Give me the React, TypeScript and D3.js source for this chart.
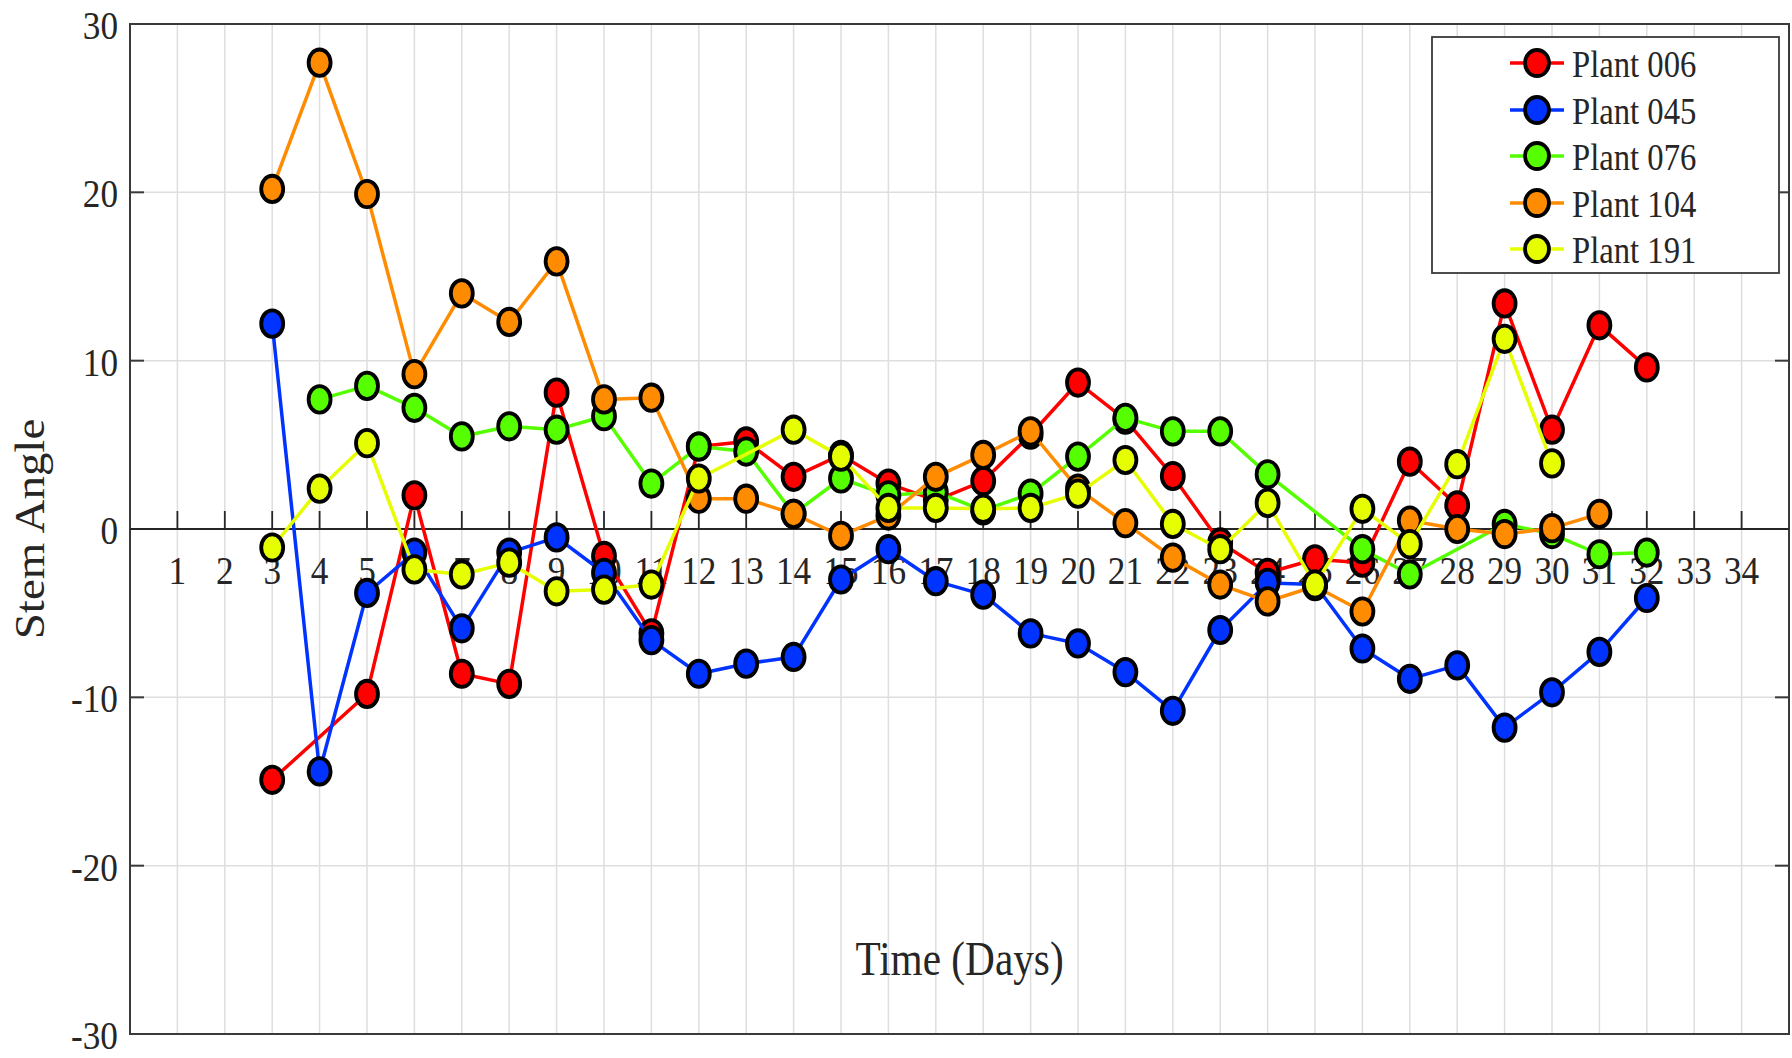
import React from "react";
import * as d3 from "d3";

// days on which each plant was measured
const days = [3, 4, 5, 6, 7, 8, 9, 10, 11, 12, 13, 14, 15, 16, 17, 18, 19, 20, 21, 22, 23, 24, 25, 26, 27, 28, 29, 30, 31, 32];

// stem angle per day (null = no measurement that day)
const plant006 = [-14.9, null, -9.8, 2.0, -8.6, -9.2, 8.1, -1.6, -6.2, 4.9, 5.2, 3.1, 4.4, 2.7, 1.7, 2.85, 5.6, 8.7, 6.5, 3.15, -0.8, -2.6, -1.8, -2.0, 4.0, 1.4, 13.4, 5.9, 12.1, 9.6];
const plant045 = [12.2, -14.4, -3.8, -1.4, -5.9, -1.4, -0.5, -2.6, -6.6, -8.6, -8.0, -7.6, -3.0, -1.2, -3.1, -3.9, -6.2, -6.8, -8.5, -10.8, -6.0, -3.2, -3.3, -7.1, -8.9, -8.1, -11.8, -9.7, -7.3, -4.1];
const plant076 = [null, 7.7, 8.5, 7.2, 5.5, 6.1, 5.9, 6.7, 2.7, 4.9, 4.6, 0.9, 3.0, 2.0, 2.2, 1.1, 2.1, 4.3, 6.6, 5.8, 5.8, 3.25, null, -1.2, -2.7, null, 0.3, -0.3, -1.5, -1.4];
const plant104 = [20.2, 27.7, 19.9, 9.2, 14.0, 12.3, 15.9, 7.7, 7.8, 1.8, 1.8, 0.9, -0.4, 0.8, 3.1, 4.4, 5.8, 2.4, 0.35, -1.7, -3.3, -4.3, -3.4, -4.9, 0.5, 0.0, -0.3, 0.05, 0.9, null];
const plant191 = [-1.1, 2.4, 5.1, -2.4, -2.7, -2.0, -3.7, -3.6, -3.3, 3.0, null, 5.9, 4.3, 1.25, 1.25, 1.2, 1.25, 2.1, 4.1, 0.3, -1.2, 1.55, -3.3, 1.2, -0.9, 3.85, 11.3, 3.9, null, null];

const seriesNames = ["Plant 006", "Plant 045", "Plant 076", "Plant 104", "Plant 191"];
const seriesValues = [plant006, plant045, plant076, plant104, plant191];
const seriesColors = ["#ff0000", "#0033ff", "#55ff00", "#ff8c00", "#e6ff00"];

const xTicks = d3.range(1, 35);
const yTicks = [-30, -20, -10, 0, 10, 20, 30];

const FONT = "'Liberation Serif', 'Times New Roman', serif";
const INK = "#262626";

function SText({ x, y, size, anchor = "start", sx = 0.86, children }) {
  return (
    <text
      transform={`translate(${x},${y}) scale(${sx},1)`}
      fontFamily={FONT}
      fontSize={size}
      fill={INK}
      textAnchor={anchor}
    >
      {children}
    </text>
  );
}

export default function App() {
  const width = 1792;
  const height = 1058;
  const plot = { left: 130, right: 1789, top: 24, bottom: 1034 };

  const x = d3.scaleLinear().domain([0, 35]).range([plot.left, plot.right]);
  const y = d3.scaleLinear().domain([-30, 30]).range([plot.bottom, plot.top]);

  const line = d3
    .line<[number, number]>()
    .x((d) => x(d[0]))
    .y((d) => y(d[1]));

  const series = seriesValues.map((vals, i) => ({
    name: seriesNames[i],
    color: seriesColors[i],
    points: days
      .map((d, j) => [d, vals[j]] as [number, number | null])
      .filter((p) => p[1] !== null) as [number, number][],
  }));

  const rx = 11;
  const ry = 13.2;
  const mStroke = 3.8;

  // legend
  const lg = { x0: 1432, y0: 37, x1: 1779, y1: 273 };
  const legendRows = [63, 110, 156, 203, 249];

  return (
    <div style={{ position: "absolute", left: 0, top: 0 }}>
      <svg width={width} height={height} style={{ display: "block", background: "#fff" }}>
        <rect x={0} y={0} width={width} height={height} fill="#fff" />

        {/* grid */}
        {xTicks.map((t) => (
          <line key={"gx" + t} x1={x(t)} x2={x(t)} y1={plot.top} y2={plot.bottom} stroke="#dedede" strokeWidth={1.5} />
        ))}
        {yTicks.filter((t) => t !== 0 && Math.abs(t) !== 30).map((t) => (
          <line key={"gy" + t} x1={plot.left} x2={plot.right} y1={y(t)} y2={y(t)} stroke="#dedede" strokeWidth={1.5} />
        ))}

        {/* frame */}
        <rect
          x={plot.left}
          y={plot.top}
          width={plot.right - plot.left}
          height={plot.bottom - plot.top}
          fill="none"
          stroke="#3a3a3a"
          strokeWidth={2}
        />

        {/* y ticks on both sides */}
        {yTicks.map((t) => (
          <g key={"yt" + t}>
            <line x1={plot.left} x2={plot.left + 14} y1={y(t)} y2={y(t)} stroke="#3a3a3a" strokeWidth={2} />
            <line x1={plot.right} x2={plot.right - 14} y1={y(t)} y2={y(t)} stroke="#3a3a3a" strokeWidth={2} />
            <SText x={plot.left - 12} y={y(t) + 15} size={41} anchor="end">
              {t}
            </SText>
          </g>
        ))}

        {/* x axis through zero */}
        <line x1={plot.left} x2={plot.right} y1={y(0)} y2={y(0)} stroke={INK} strokeWidth={2} />
        {xTicks.map((t) => (
          <g key={"xt" + t}>
            <line x1={x(t)} x2={x(t)} y1={y(0)} y2={y(0) - 18} stroke={INK} strokeWidth={1.8} />
            <SText x={x(t)} y={y(0) + 55} size={41} anchor="middle">
              {t}
            </SText>
          </g>
        ))}

        {/* axis titles */}
        <text
          transform={`translate(44,${y(0)}) rotate(-90) scale(1,0.88)`}
          fontFamily={FONT}
          fontSize={47}
          fill={INK}
          textAnchor="middle"
        >
          Stem Angle
        </text>
        <SText x={(plot.left + plot.right) / 2} y={975} size={48} anchor="middle">
          Time (Days)
        </SText>

        {/* series */}
        {series.map((s) => (
          <g key={s.name}>
            <path d={line(s.points) || ""} fill="none" stroke={s.color} strokeWidth={3.5} strokeLinejoin="round" />
            {s.points.map((p) => (
              <ellipse
                key={p[0]}
                cx={x(p[0])}
                cy={y(p[1])}
                rx={rx}
                ry={ry}
                fill={s.color}
                stroke="#000"
                strokeWidth={mStroke}
              />
            ))}
          </g>
        ))}

        {/* legend */}
        <rect x={lg.x0} y={lg.y0} width={lg.x1 - lg.x0} height={lg.y1 - lg.y0} fill="#fff" stroke="#3a3a3a" strokeWidth={1.8} />
        {series.map((s, i) => (
          <g key={"lg" + s.name}>
            <line x1={1510} x2={1564} y1={legendRows[i]} y2={legendRows[i]} stroke={s.color} strokeWidth={3.5} />
            <ellipse cx={1537} cy={legendRows[i]} rx={12} ry={13} fill={s.color} stroke="#000" strokeWidth={mStroke} />
            <SText x={1572} y={legendRows[i] + 13.5} size={38}>
              {s.name}
            </SText>
          </g>
        ))}
      </svg>
    </div>
  );
}
